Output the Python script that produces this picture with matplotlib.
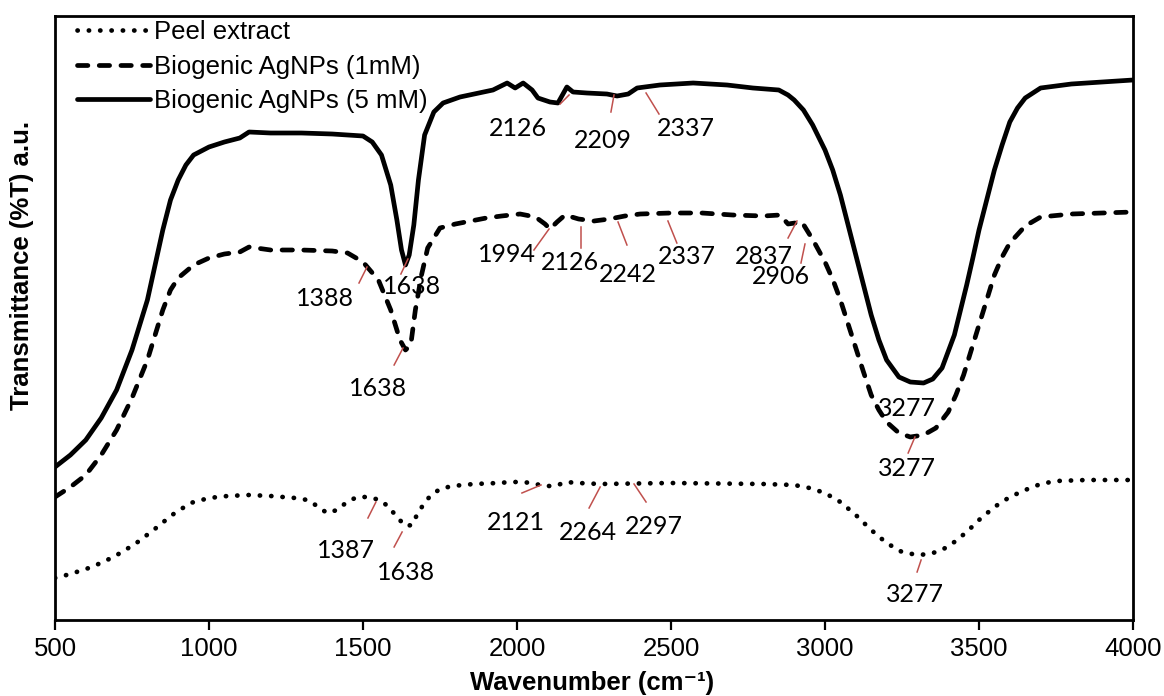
import matplotlib
matplotlib.use("Agg")
import matplotlib.pyplot as plt

# ---------------- data (wavenumber cm-1, transmittance a.u.) ----------------
wn_peel = [500, 550, 620, 690, 760, 820, 880, 940, 1000, 1060, 1130, 1200, 1280, 1320,
           1351, 1383, 1416, 1448, 1481, 1516, 1555, 1584, 1610, 1638, 1659, 1675, 1695,
           1718, 1750, 1790, 1860, 1940, 1980, 2013, 2050, 2085, 2124, 2159, 2200, 2270,
           2500, 2800, 2900, 2950, 3000, 3050, 3100, 3150, 3200, 3250, 3300, 3340, 3380,
           3420, 3460, 3500, 3550, 3600, 3650, 3700, 3750, 3850, 4000]
t_peel = [42, 46, 53, 63, 76, 90, 105, 117, 122, 124, 125, 124, 122, 120,
          114, 107, 110, 118, 123, 123, 120, 113, 103, 94, 95, 105, 115,
          124, 131, 134, 136, 137, 138, 138, 137, 134, 134, 138, 137, 136,
          137, 136, 135, 132, 127, 118, 105, 90, 77, 68, 65, 66, 70,
          78, 88, 100, 113, 123, 130, 136, 139, 140, 140]

wn_1mm = [500, 550, 600, 650, 700, 750, 800, 825, 850, 875, 900, 950, 1000, 1050, 1100,
          1130, 1200, 1300, 1400, 1450, 1500, 1550, 1590, 1620, 1638, 1655, 1670, 1690,
          1710, 1750, 1800, 1900, 1950, 2010, 2060, 2091, 2107, 2130, 2156, 2200, 2250,
          2300, 2350, 2400, 2500, 2600, 2700, 2800, 2854, 2880, 2925, 2961, 3000, 3026,
          3050, 3075, 3100, 3125, 3150, 3175, 3200, 3240, 3277, 3320, 3360, 3400, 3425,
          3450, 3475, 3500, 3525, 3550, 3575, 3600, 3650, 3700, 3800, 3900, 4000]
t_1mm = [123, 133, 145, 165, 190, 222, 260, 285, 310, 330, 342, 355, 362, 366, 368,
         373, 370, 370, 369, 367, 358, 340, 310, 280, 270, 275, 310, 345,
         372, 392, 396, 402, 404, 406, 403, 396, 391, 398, 405, 401, 399,
         401, 404, 406, 407, 407, 405, 404, 405, 396, 398, 380, 358, 340,
         320, 296, 272, 248, 225, 210, 198, 187, 183, 185, 192, 208, 225,
         245, 270, 295, 320, 345, 363, 377, 394, 403, 406, 407, 408]

wn_5mm = [500, 550, 600, 650, 700, 750, 800, 825, 850, 875, 900, 925, 950, 1000, 1050,
          1100, 1130, 1200, 1300, 1400, 1500, 1530, 1560, 1590, 1610, 1625, 1638, 1650,
          1665, 1680, 1700, 1730, 1760, 1815, 1922, 1968, 1994, 2020, 2049, 2068, 2107,
          2133, 2162, 2182, 2227, 2292, 2325, 2361, 2390, 2464, 2572, 2682, 2766, 2850,
          2880, 2900, 2930, 2960, 3000, 3025, 3050, 3075, 3100, 3125, 3150, 3175, 3200,
          3240, 3277, 3320, 3350, 3380, 3420, 3440, 3460, 3480, 3500, 3525, 3550, 3575,
          3600, 3625, 3650, 3700, 3800, 3900, 4000]
t_5mm = [153, 165, 180, 202, 230, 270, 320, 355, 390, 420, 440, 455, 465, 473, 478,
         482, 488, 487, 487, 486, 484, 478, 465, 435, 400, 370, 355, 365,
         395, 440, 485, 508, 517, 523, 530, 537, 532, 537, 530, 522, 518,
         517, 533, 528, 527, 526, 524, 526, 532, 535, 537, 535, 532, 530,
         525, 520, 510, 495, 470, 450, 425, 395, 365, 335, 305, 280, 260,
         243, 238, 237, 241, 252, 285, 310, 335, 362, 390, 420, 450, 475,
         498, 512, 522, 532, 536, 538, 540]

series_labels = ["Peel extract", "Biogenic AgNPs (1mM)", "Biogenic AgNPs (5 mM)"]
x_ticks = [500, 1000, 1500, 2000, 2500, 3000, 3500, 4000]

# peak labels: (text, text x, text y, line start x, line start y, line end x, line end y)
peak_notes = [
    ("1388", 1377, 322, 1513, 353, 1487, 337),
    ("1638", 1659, 333, 1646, 361, 1623, 346),
    ("1638", 1549, 232, 1630, 272, 1601, 255),
    ("2126", 2003, 492, 2169, 525, 2140, 516),
    ("2209", 2279, 480, 2315, 525, 2305, 508),
    ("2337", 2549, 492, 2419, 527, 2461, 506),
    ("1994", 1968, 365, 2104, 391, 2055, 370),
    ("2126", 2172, 357, 2208, 393, 2208, 372),
    ("2242", 2360, 346, 2328, 398, 2357, 375),
    ("2337", 2552, 364, 2490, 399, 2519, 377),
    ("2837", 2802, 364, 2909, 399, 2880, 382),
    ("2906", 2857, 344, 2935, 376, 2922, 357),
    ("3277", 3266, 212, None, None, None, None),
    ("3277", 3266, 152, 3292, 183, 3270, 167),
    ("1387", 1445, 70, 1542, 118, 1516, 102),
    ("1638", 1640, 48, 1627, 88, 1601, 73),
    ("2121", 1997, 97, 2078, 135, 2016, 127),
    ("2264", 2231, 87, 2270, 133, 2234, 112),
    ("2297", 2445, 94, 2380, 136, 2419, 118),
    ("3277", 3292, 25, 3312, 60, 3299, 48),
]

# ---------------- figure ----------------
plt.rcParams['font.family'] = ['Liberation Sans', 'DejaVu Sans']
fig = plt.figure(figsize=(11.64, 6.96), dpi=100)
ax = fig.add_axes([55 / 1164, 76 / 696, 1078 / 1164, 604 / 696])

lw = 3.4
ax.plot(wn_peel, t_peel, color='black', lw=lw, dashes=(0.05, 2.35),
        dash_capstyle='round', label=series_labels[0])
ax.plot(wn_1mm, t_1mm, color='black', lw=lw, dashes=(2.2, 2.4),
        dash_capstyle='round', label=series_labels[1])
ax.plot(wn_5mm, t_5mm, color='black', lw=lw, solid_capstyle='round',
        solid_joinstyle='round', label=series_labels[2])

red = '#C0504D'
for txt, tx, ty, x0, y0, x1, y1 in peak_notes:
    if x0 is not None:
        ax.plot([x0, x1], [y0, y1], color=red, lw=1.1)
    ax.text(tx, ty, txt, ha='center', va='center', fontsize=18,
            family=['Lato', 'DejaVu Sans'], color='black')

ax.set_xlim(500, 4000)
ax.set_ylim(0, 604)
ax.set_xticks(x_ticks)
ax.set_xticklabels([str(v) for v in x_ticks])
ax.set_yticks([])
ax.tick_params(axis='x', direction='out', length=7, width=1.6, labelsize=18.5, pad=5)
for s in ax.spines.values():
    s.set_linewidth(2.0)

leg = ax.legend(loc='upper left', frameon=False, fontsize=18.5, handlelength=2.85,
                handletextpad=0.15, labelspacing=0.41, borderaxespad=0.0,
                bbox_to_anchor=(0.011, 1.01))

fig.text(592 / 1164, 1 - 683 / 696, 'Wavenumber (cm\u207b\u00b9)', ha='center', va='center',
         fontsize=18.5, fontweight='bold', family=['Liberation Sans', 'DejaVu Sans'])
fig.text(22 / 1164, 1 - 265 / 696, 'Transmittance (%T) a.u.', ha='center', va='center',
         rotation=90, fontsize=18.5, fontweight='bold')

fig.savefig('out.png', dpi=100)
